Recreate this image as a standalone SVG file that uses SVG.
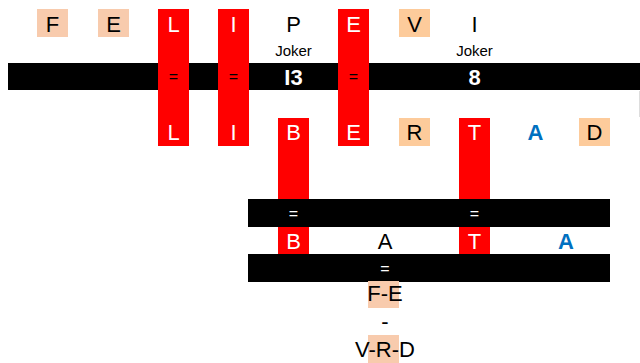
<svg xmlns="http://www.w3.org/2000/svg" width="640" height="363" viewBox="0 0 640 363">
<style>
text{font-family:"Liberation Sans",Arial,sans-serif;text-anchor:middle}
.l{font-size:22px;fill:#000}
.w{font-size:22px;fill:#fff}
.b{font-size:22px;fill:#0070c0;font-weight:bold}
.j{font-size:15px;fill:#000}
.n{font-size:22px;fill:#fff;font-weight:bold}
.eq{font-size:16px;fill:#000}
.eqw{font-size:16px;fill:#fff}
.red{fill:#ff0000}
.pk{fill:#f8cbad}
.or{fill:#fdcb9b}
.bar{fill:#000}
</style>
<g id="connectors">
<rect class="bar" x="8" y="63" width="632" height="27"/>
<line x1="639.5" y1="91" x2="639.5" y2="117" stroke="#ddd" stroke-width="1"/>
</g>
<g id="n-F"><rect class="pk" x="37" y="9" width="31" height="28"/><text class="l" x="52.5" y="32">F</text></g>
<g id="n-E1"><rect class="pk" x="98" y="9" width="31" height="28"/><text class="l" x="113.5" y="32">E</text></g>
<g id="n-L"><rect class="red" x="158" y="9" width="31" height="137"/><text class="w" x="173.5" y="32">L</text><text class="eq" x="173.5" y="82">=</text><text class="w" x="173.5" y="140">L</text></g>
<g id="n-I"><rect class="red" x="218" y="9" width="31" height="137"/><text class="w" x="233.5" y="32">I</text><text class="eq" x="233.5" y="82">=</text><text class="w" x="233.5" y="140">I</text></g>
<g id="n-P"><text class="l" x="293.5" y="32">P</text><text class="j" x="293.5" y="56">Joker</text><text class="n" x="293.5" y="85">I3</text></g>
<g id="n-E2"><rect class="red" x="338" y="9" width="31" height="137"/><text class="w" x="353.5" y="32">E</text><text class="eq" x="353.5" y="82">=</text><text class="w" x="353.5" y="140">E</text></g>
<g id="n-V"><rect class="or" x="399" y="9" width="31" height="28"/><text class="l" x="414.5" y="32">V</text></g>
<g id="n-I2"><text class="l" x="474.5" y="32">I</text><text class="j" x="474.5" y="56">Joker</text><text class="n" x="474.5" y="85">8</text></g>
<g id="n-B"><rect class="red" x="278" y="118" width="31" height="81"/><text class="w" x="293.5" y="140">B</text></g>
<g id="n-R"><rect class="or" x="399" y="118" width="31" height="28"/><text class="l" x="414.5" y="140">R</text></g>
<g id="n-T"><rect class="red" x="459" y="118" width="31" height="81"/><text class="w" x="474.5" y="140">T</text></g>
<g id="n-A1"><text class="b" x="535.5" y="140">A</text></g>
<g id="n-D"><rect class="or" x="579" y="118" width="31" height="28"/><text class="l" x="594.5" y="140">D</text></g>
<g id="n-row2">
<rect class="bar" x="248" y="199" width="362" height="28"/>
<text class="eqw" x="293.5" y="219">=</text>
<text class="eqw" x="474.5" y="219">=</text>
</g>
<g id="n-B2"><rect class="red" x="278" y="227" width="31" height="27"/><text class="w" x="293.5" y="249">B</text></g>
<g id="n-A2"><text class="l" x="385" y="249">A</text></g>
<g id="n-T2"><rect class="red" x="459" y="227" width="31" height="27"/><text class="w" x="474.5" y="249">T</text></g>
<g id="n-A3"><text class="b" x="566" y="249">A</text></g>
<g id="n-row3">
<rect class="bar" x="248" y="254" width="362" height="28"/>
<text class="eqw" x="385" y="274">=</text>
</g>
<g id="n-FE"><rect class="pk" x="368" y="281" width="31" height="27"/><text class="l" x="385" y="301">F-E</text></g>
<g id="n-dash"><text class="l" x="385" y="329">-</text></g>
<g id="n-VRD"><rect class="pk" x="368" y="335" width="31" height="28"/><text class="l" x="385" y="357">V-R-D</text></g>
</svg>
